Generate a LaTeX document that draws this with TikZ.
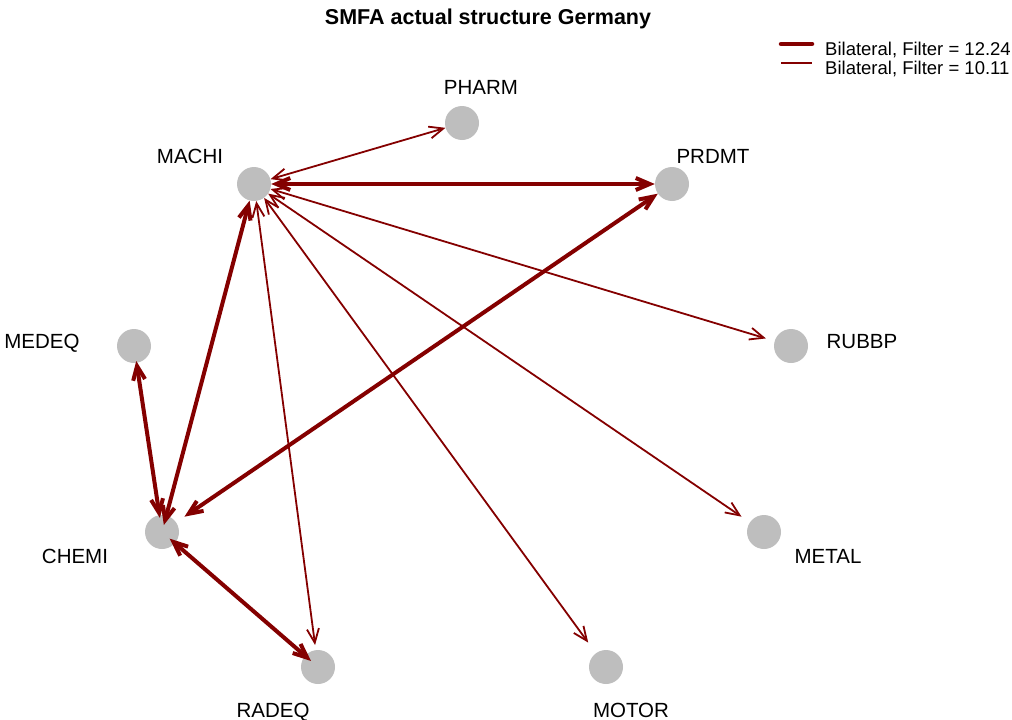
\documentclass[tikz,border=0pt]{standalone}
\usepackage{fontspec}
\setmainfont{Liberation Sans}
\usetikzlibrary{arrows.meta}
\definecolor{edgered}{HTML}{840000}
\definecolor{vertexgray}{HTML}{BEBEBE}
\begin{document}
\begin{tikzpicture}[x=1pt,y=-1pt,
  vertex/.style={circle,fill=vertexgray,draw=none,minimum size=34pt,inner sep=0pt},
  vlabel/.style={anchor=base,inner sep=0pt,font=\fontsize{20.5}{24}\selectfont},
  heavy/.style={draw=edgered,line width=4pt,
    {Straight Barb[length=14pt,width=12pt]}-{Straight Barb[length=14pt,width=12pt]}},
  light/.style={draw=edgered,line width=1.8pt,
    {Straight Barb[length=14pt,width=12pt]}-{Straight Barb[length=14pt,width=12pt]}},
  legtext/.style={anchor=base west,inner sep=0pt,font=\fontsize{18.5}{22}\selectfont}]
\useasboundingbox (0,0) rectangle (1012,720);

% title
\node[anchor=base,inner sep=0pt,font=\fontsize{21.5}{26}\bfseries] (title) at (488,24) {SMFA actual structure Germany};

% vertices
\node[vertex] (pharm) at (462,123) {};
\node[vertex] (machi) at (254,184) {};
\node[vertex] (prdmt) at (672,184) {};
\node[vertex] (medeq) at (134,346) {};
\node[vertex] (rubbp) at (791,346) {};
\node[vertex] (chemi) at (162,532) {};
\node[vertex] (metal) at (764,532) {};
\node[vertex] (radeq) at (318,667) {};
\node[vertex] (motor) at (606,667) {};

% vertex labels
\node[vlabel] (lpharm) at (481,94) {PHARM};
\node[vlabel] (lmachi) at (190,163) {MACHI};
\node[vlabel] (lprdmt) at (713,163) {PRDMT};
\node[vlabel] (lmedeq) at (42,348) {MEDEQ};
\node[vlabel] (lrubbp) at (862,348) {RUBBP};
\node[vlabel] (lchemi) at (75,563) {CHEMI};
\node[vlabel] (lmetal) at (828,563) {METAL};
\node[vlabel] (lradeq) at (273,717) {RADEQ};
\node[vlabel] (lmotor) at (631,717) {MOTOR};

% strong ties (filter = 12.24)
\draw[heavy] (machi) -- (prdmt);
\draw[heavy,shorten >=-10pt] (machi) -- (chemi);
\draw[heavy,shorten <=-2pt,shorten >=-3pt] (medeq) -- (chemi);
\draw[heavy,shorten >=10pt] (prdmt) -- (chemi);
\draw[heavy,shorten <=-7pt,shorten >=-8pt] (chemi) -- (radeq);

% weaker ties (filter = 10.11)
\draw[light] (machi) -- (pharm);
\draw[light,shorten >=9pt] (machi) -- (rubbp);
\draw[light,shorten >=10pt] (machi) -- (metal);
\draw[light,shorten >=13pt] (machi) -- (motor);
\draw[light,shorten >=5pt] (machi) -- (radeq);

% legend
\coordinate (la1) at (781,44);
\coordinate (lb1) at (812,44);
\coordinate (la2) at (781,63);
\coordinate (lb2) at (812,63);
\draw[draw=edgered,line width=4.5pt,line cap=round] (la1) -- (lb1);
\draw[draw=edgered,line width=1.8pt] (la2) -- (lb2);
\node[legtext] (leg1) at (825,55) {Bilateral, Filter = 12.24};
\node[legtext] (leg2) at (825,74) {Bilateral, Filter = 10.11};
\end{tikzpicture}
\end{document}
